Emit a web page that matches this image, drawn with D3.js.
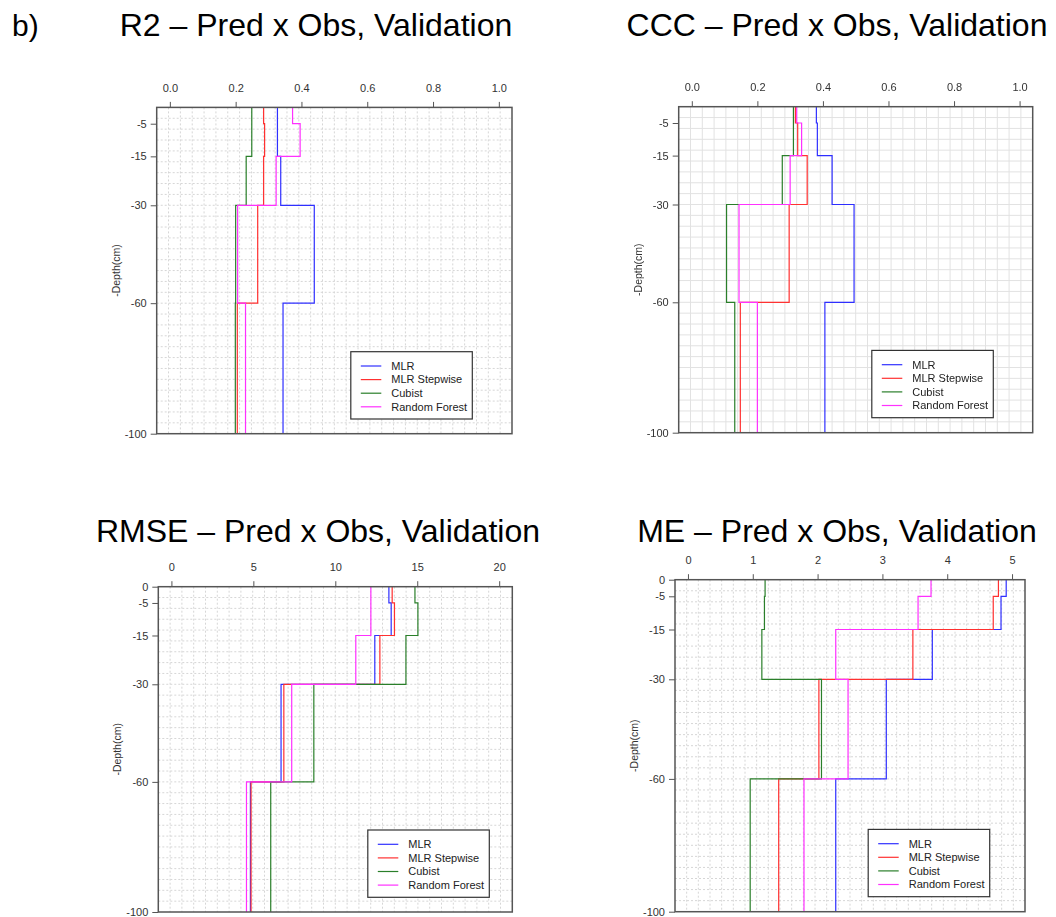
<!DOCTYPE html>
<html>
<head>
<meta charset="utf-8">
<script src="https://cdn.jsdelivr.net/npm/d3@7"></script>
<style>
  html, body { margin: 0; padding: 0; background: #fff; }
  svg { display: block; font-family: "Liberation Sans", Arial, sans-serif; }
</style>
</head>
<body>
<svg id="chart" width="1056" height="917"></svg>
<script>
// Depth layer boundaries (cm, negative downwards)
const depthBreaks = [0, -5, -15, -30, -60, -100];
const depthTicksShort = [-5, -15, -30, -60, -100];
const depthTicksFull = [0, -5, -15, -30, -60, -100];

const seriesNames = ["MLR", "MLR Stepwise", "Cubist", "Random Forest"];
const seriesColors = ["#2f2fff", "#ff3030", "#2a7f2a", "#ff30ff"];

// R2 per layer: 0-5, 5-15, 15-30, 30-60, 60-100
const r2MLR      = [0.327, 0.327, 0.337, 0.439, 0.344];
const r2Stepwise = [0.285, 0.288, 0.285, 0.267, 0.205];
const r2Cubist   = [0.249, 0.249, 0.232, 0.200, 0.199];
const r2RF       = [0.373, 0.396, 0.323, 0.206, 0.230];

// CCC per layer
const cccMLR      = [0.380, 0.383, 0.428, 0.495, 0.406];
const cccStepwise = [0.316, 0.323, 0.352, 0.297, 0.148];
const cccCubist   = [0.310, 0.310, 0.276, 0.106, 0.131];
const cccRF       = [0.320, 0.335, 0.300, 0.144, 0.200];

// RMSE per layer
const rmseMLR      = [13.27, 13.41, 12.41, 6.69, 4.82];
const rmseStepwise = [13.47, 13.61, 12.72, 6.86, 4.86];
const rmseCubist   = [14.86, 15.04, 14.31, 8.69, 6.06];
const rmseRF       = [12.17, 12.17, 11.25, 7.34, 4.58];

// ME per layer
const meMLR      = [4.91, 4.83, 3.77, 3.06, 2.28];
const meStepwise = [4.79, 4.71, 3.47, 2.02, 1.40];
const meCubist   = [1.19, 1.18, 1.14, 2.06, 0.96];
const meRF       = [3.75, 3.55, 2.28, 2.47, 1.79];

const r2Ticks = [0, 0.2, 0.4, 0.6, 0.8, 1.0];
const cccTicks = [0, 0.2, 0.4, 0.6, 0.8, 1.0];
const rmseTicks = [0, 5, 10, 15, 20];
const meTicks = [0, 1, 2, 3, 4, 5];

const titles = [
  "R2 – Pred x Obs, Validation",
  "CCC – Pred x Obs, Validation",
  "RMSE – Pred x Obs, Validation",
  "ME – Pred x Obs, Validation"
];

// Plain hyphen-minus labels, as R prints them
const plainInt = d => String(d);

// Layout of each panel
const panels = [
  { title: titles[0], tx: 316, ty: 35.5, x: 156.7, y: 107.4, w: 355.3, h: 326.3,
    dom: [-0.04, 1.04], ticks: r2Ticks, fmt: d3.format(".1f"), yTicks: depthTicksShort,
    series: [r2MLR, r2Stepwise, r2Cubist, r2RF], legR: 39.7, legB: 14.7, soft: false },
  { title: titles[1], tx: 837, ty: 35.5, x: 678.7, y: 106.7, w: 354, h: 326,
    dom: [-0.04, 1.04], ticks: cccTicks, fmt: d3.format(".1f"), yTicks: depthTicksShort,
    series: [cccMLR, cccStepwise, cccCubist, cccRF], legR: 39.4, legB: 15, soft: true },
  { title: titles[2], tx: 318, ty: 542, x: 158.3, y: 586.7, w: 354, h: 325.3,
    dom: [-0.8, 20.8], ticks: rmseTicks, fmt: plainInt, yTicks: depthTicksFull,
    series: [rmseMLR, rmseStepwise, rmseCubist, rmseRF], legR: 23, legB: 14.7, soft: false },
  { title: titles[3], tx: 837, ty: 542, x: 675, y: 579.7, w: 350, h: 332,
    dom: [-0.2, 5.2], ticks: meTicks, fmt: plainInt, yTicks: depthTicksFull,
    series: [meMLR, meStepwise, meCubist, meRF], legR: 35.3, legB: 15, soft: false }
];

const svg = d3.select("#chart");
svg.append("rect").attr("width", 1056).attr("height", 917).attr("fill", "#fff");

const defs = svg.append("defs");
defs.append("filter").attr("id", "soft")
  .append("feGaussianBlur").attr("stdDeviation", 0.45);

svg.append("text").attr("x", 12).attr("y", 36)
  .attr("font-size", 30).attr("fill", "#000").text("b)");

panels.forEach(p => {
  svg.append("text")
    .attr("x", p.tx).attr("y", p.ty)
    .attr("text-anchor", "middle")
    .attr("font-size", 32).attr("fill", "#000")
    .text(p.title);

  const g = svg.append("g");
  if (p.soft) g.attr("filter", "url(#soft)");

  const x = d3.scaleLinear().domain(p.dom).range([p.x, p.x + p.w]);
  const y = d3.scaleLinear().domain([0, -100]).range([p.y, p.y + p.h]);

  // Grid: 30 x 30 cells across the plotting region
  const nCells = 30;
  const gx = d3.range(1, nCells).map(i => p.dom[0] + (p.dom[1] - p.dom[0]) * i / nCells);
  const gy = d3.range(1, nCells).map(i => -100 * i / nCells);
  const grid = g.append("g")
    .attr("stroke", p.soft ? "#e2e2e2" : "#d6d6d6")
    .attr("stroke-width", 1)
    .attr("stroke-dasharray", p.soft ? null : "2,2");
  grid.selectAll("line.v").data(gx).join("line").attr("class", "v")
    .attr("x1", d => x(d)).attr("x2", d => x(d))
    .attr("y1", p.y).attr("y2", p.y + p.h);
  grid.selectAll("line.h").data(gy).join("line").attr("class", "h")
    .attr("x1", p.x).attr("x2", p.x + p.w)
    .attr("y1", d => y(d)).attr("y2", d => y(d));

  // Step profiles down the depth layers
  const line = d3.line().x(d => x(d[0])).y(d => y(d[1]));
  p.series.forEach((vals, si) => {
    const pts = [];
    vals.forEach((v, i) => {
      pts.push([v, depthBreaks[i]]);
      pts.push([v, depthBreaks[i + 1]]);
    });
    g.append("path").datum(pts)
      .attr("d", line)
      .attr("fill", "none")
      .attr("stroke", seriesColors[si])
      .attr("stroke-width", 1.2);
  });

  // Top axis
  const ax = g.append("g").attr("transform", `translate(0,${p.y})`)
    .call(d3.axisTop(x).tickValues(p.ticks).tickFormat(p.fmt).tickSize(5.5).tickPadding(10));
  ax.select(".domain").remove();
  ax.selectAll(".tick line").attr("stroke", "#555");
  ax.selectAll(".tick text").attr("font-size", 11).attr("fill", "#333")
    .attr("font-family", "Liberation Sans, Arial, sans-serif");

  // Left axis
  const ay = g.append("g").attr("transform", `translate(${p.x},0)`)
    .call(d3.axisLeft(y).tickValues(p.yTicks).tickFormat(plainInt).tickSize(6).tickPadding(4));
  ay.select(".domain").remove();
  ay.selectAll(".tick line").attr("stroke", "#555");
  ay.selectAll(".tick text").attr("font-size", 11).attr("fill", "#333")
    .attr("font-family", "Liberation Sans, Arial, sans-serif");

  g.append("text")
    .attr("transform", `translate(${p.x - 37},${p.y + p.h / 2}) rotate(-90)`)
    .attr("text-anchor", "middle")
    .attr("font-size", 10.5).attr("fill", "#333")
    .text("-Depth(cm)");

  // Plot frame
  g.append("rect")
    .attr("x", p.x).attr("y", p.y).attr("width", p.w).attr("height", p.h)
    .attr("fill", "none").attr("stroke", "#555").attr("stroke-width", 1.5);

  // Legend
  const lw = 121.5, lh = 67.3;
  const lx = p.x + p.w - p.legR - lw;
  const ly = p.y + p.h - p.legB - lh;
  const leg = g.append("g").attr("transform", `translate(${lx},${ly})`);
  leg.append("rect").attr("width", lw).attr("height", lh)
    .attr("fill", "#fff").attr("stroke", "#333").attr("stroke-width", 1.2);
  seriesNames.forEach((name, i) => {
    const ry = 14.3 + i * 13.6;
    leg.append("line").attr("x1", 10).attr("x2", 30.5).attr("y1", ry).attr("y2", ry)
      .attr("stroke", seriesColors[i]).attr("stroke-width", 1.2);
    leg.append("text").attr("x", 40.5).attr("y", ry).attr("dy", "0.35em")
      .attr("font-size", 11).attr("fill", "#222").text(name);
  });
});
</script>
</body>
</html>
